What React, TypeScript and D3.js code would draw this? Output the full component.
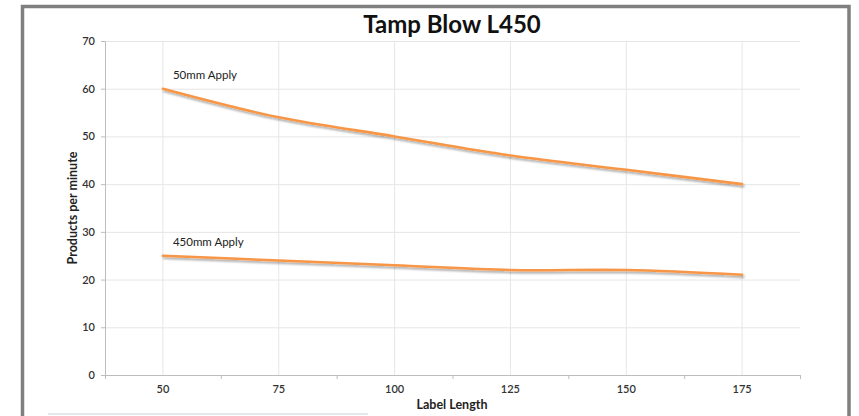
import { useEffect, useRef } from "react";
import * as d3 from "d3";

const categories = ["50", "75", "100", "125", "150", "175"];
const apply50 = [60, 54, 50, 46, 43, 40];
const apply450 = [25, 24, 23, 22, 22, 21];
const yTicks = [0, 10, 20, 30, 40, 50, 60, 70];
const seriesLabels = ["50mm Apply", "450mm Apply"];

const W = 859;
const H = 416;
const FONT = "Lato, 'Open Sans', sans-serif";

export default function App() {
  const svgRef = useRef<SVGSVGElement>(null);

  useEffect(() => {
    if (!svgRef.current) return;
    const svg = d3.select(svgRef.current);
    svg.selectAll("*").remove();

    const plot = { left: 105, right: 800, top: 41, bottom: 375 };

    // ── Frame ────────────────────────────────────────────────────────────────
    svg.append("rect").attr("width", W).attr("height", H).attr("fill", "#ffffff");
    svg.append("path")
      .attr("d", `M22.5,${H + 5} V6.5 H849 V${H + 5}`)
      .attr("fill", "none")
      .attr("stroke", "#7f7f7f")
      .attr("stroke-width", 3.5);
    svg.append("line")
      .attr("x1", 48).attr("x2", 368).attr("y1", 414).attr("y2", 414)
      .attr("stroke", "#e4e8ee").attr("stroke-width", 2);

    const defs = svg.append("defs");
    defs.append("filter")
      .attr("id", "shadow")
      .attr("x", "-5%").attr("y", "-50%").attr("width", "110%").attr("height", "200%")
      .append("feDropShadow")
      .attr("dx", 1.2).attr("dy", 2)
      .attr("stdDeviation", 1.1)
      .attr("flood-color", "#000").attr("flood-opacity", 0.35);

    // ── Scales ───────────────────────────────────────────────────────────────
    const x = d3.scaleBand().domain(categories).range([plot.left, plot.right]).paddingInner(0).paddingOuter(0);
    const xc = (c: string) => (x(c) ?? 0) + x.bandwidth() / 2;
    const y = d3.scaleLinear().domain([0, 70]).range([plot.bottom, plot.top]);

    // ── Grid ─────────────────────────────────────────────────────────────────
    svg.append("g").selectAll("line").data(yTicks.slice(1)).join("line")
      .attr("x1", plot.left).attr("x2", plot.right)
      .attr("y1", (d) => y(d) + 0.5).attr("y2", (d) => y(d) + 0.5)
      .attr("stroke", "#e6e6e6").attr("stroke-width", 1);
    svg.append("g").selectAll("line").data(categories).join("line")
      .attr("x1", (d) => xc(d)).attr("x2", (d) => xc(d))
      .attr("y1", plot.top).attr("y2", plot.bottom)
      .attr("stroke", "#e6e6e6").attr("stroke-width", 1);

    // ── Axes ─────────────────────────────────────────────────────────────────
    const yAxis = svg.append("g")
      .attr("transform", `translate(${plot.left},0)`)
      .call(d3.axisLeft(y).tickValues(yTicks).tickSize(4).tickPadding(6));
    yAxis.select(".domain").attr("stroke", "#bdbdbd");
    yAxis.selectAll(".tick line").attr("stroke", "#bdbdbd");
    yAxis.selectAll(".tick text")
      .attr("fill", "#333").attr("font-size", 11).attr("font-weight", 600).attr("font-family", FONT);

    const xAxis = svg.append("g")
      .attr("transform", `translate(0,${plot.bottom})`)
      .call(d3.axisBottom(x).tickSize(0).tickPadding(10));
    xAxis.select(".domain").attr("stroke", "#bdbdbd");
    xAxis.selectAll(".tick text")
      .attr("fill", "#333").attr("font-size", 11).attr("font-weight", 600).attr("font-family", FONT);
    // tick marks sit on band boundaries
    const bounds = [...categories.map((c) => x(c) ?? 0), plot.right];
    xAxis.append("g").selectAll("line").data(bounds).join("line")
      .attr("x1", (d) => d + 0.5).attr("x2", (d) => d + 0.5)
      .attr("y1", 0).attr("y2", 4)
      .attr("stroke", "#bdbdbd");

    // ── Titles ───────────────────────────────────────────────────────────────
    svg.append("text")
      .attr("x", 452).attr("y", 33)
      .attr("text-anchor", "middle")
      .attr("font-family", FONT).attr("font-size", 24).attr("font-weight", 700)
      .attr("fill", "#111")
      .text("Tamp Blow L450");

    svg.append("text")
      .attr("x", 452).attr("y", 409)
      .attr("text-anchor", "middle")
      .attr("font-family", FONT).attr("font-size", 12.5).attr("font-weight", 700)
      .attr("fill", "#222")
      .text("Label Length");

    svg.append("text")
      .attr("transform", `translate(77,${(plot.top + plot.bottom) / 2}) rotate(-90)`)
      .attr("text-anchor", "middle")
      .attr("font-family", FONT).attr("font-size", 12.5).attr("font-weight", 700)
      .attr("fill", "#222")
      .text("Products per minute");

    // ── Series ───────────────────────────────────────────────────────────────
    const line = d3.line<number>()
      .x((_, i) => xc(categories[i]))
      .y((d) => y(d))
      .curve(d3.curveCatmullRom.alpha(0.5));

    [apply50, apply450].forEach((s, i) => {
      svg.append("path").datum(s)
        .attr("fill", "none")
        .attr("stroke", "#f79646")
        .attr("stroke-width", 2.6)
        .attr("stroke-linecap", "round")
        .attr("filter", "url(#shadow)")
        .attr("d", line);

      svg.append("text")
        .attr("x", xc(categories[0]) + 10)
        .attr("y", y(s[0]) - 10)
        .attr("font-family", FONT).attr("font-size", 11.5)
        .attr("fill", "#222")
        .text(seriesLabels[i]);
    });
  }, []);

  return (
    <div style={{ position: "absolute", left: 0, top: 0 }}>
      <svg ref={svgRef} width={W} height={H} style={{ display: "block" }} />
    </div>
  );
}
